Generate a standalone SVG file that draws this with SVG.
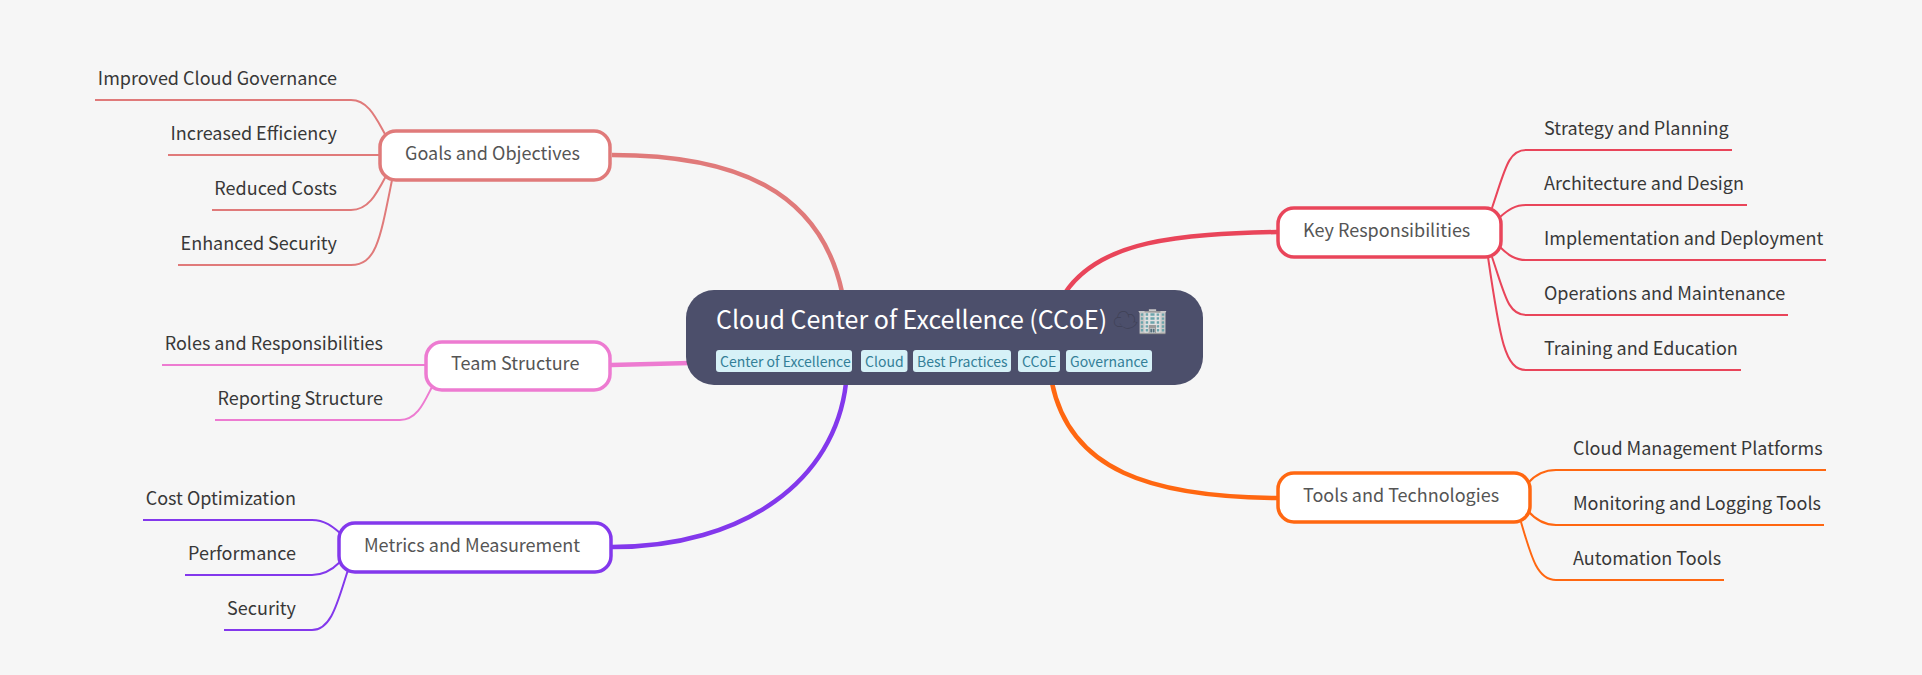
<svg xmlns="http://www.w3.org/2000/svg" width="1922" height="675" viewBox="0 0 1922 675">
<style>
text{font-family:"Noto Sans CJK SC","Noto Sans",sans-serif}
.leaf{font-size:18px;fill:#383838}
.r{text-anchor:end}
.mid{font-size:18px;fill:#555}
.n{fill:#fff;stroke-width:3.5}
.c path{fill:none}
.b{stroke-width:2}
.m{stroke-width:4.5}
.tag{fill:#d6f1f7}
.tt{font-size:14px;fill:#337f97}
</style>
<rect width="1922" height="675" fill="#f6f6f6"/>
<g id="connectors" class="c">
<g stroke="#e07a7a">
<path class="m" d="M612 155C735 155 820 190 842 292"/>
<path class="b" d="M95 100H351C368 100 376 118 385 134"/>
<path class="b" d="M168 155H380"/>
<path class="b" d="M212 210H351C368 210 376 195 386 176"/>
<path class="b" d="M178 265H351C376 265 380 240 392 180"/>
</g>
<g stroke="#ed7bd1">
<path class="m" d="M611 365L690 363"/>
<path class="b" d="M162 365H427"/>
<path class="b" d="M215 420H400C418 420 425 400 433 385"/>
</g>
<g stroke="#8338ec">
<path class="m" d="M612 547C745 547 835 480 846 383"/>
<path class="b" d="M143 520H312C325 520 333 527 340 533"/>
<path class="b" d="M185 575H312C325 575 333 569 340 562"/>
<path class="b" d="M224 630H312C332 630 338 600 348 570"/>
</g>
<g stroke="#e9455a">
<path class="m" d="M1277 232C1180 234 1100 240 1065 293"/>
<path class="b" d="M1492 208C1505 170 1508 150 1526 150H1732"/>
<path class="b" d="M1500 217C1508 210 1515 205 1526 205H1747"/>
<path class="b" d="M1500 247C1508 255 1515 260 1526 260H1826"/>
<path class="b" d="M1492 257C1505 295 1508 315 1526 315H1788"/>
<path class="b" d="M1488 257C1500 340 1505 370 1526 370H1741"/>
</g>
<g stroke="#ff6711">
<path class="m" d="M1277 498C1150 497 1070 470 1052 383"/>
<path class="b" d="M1528 483C1535 475 1545 470 1556 470H1826"/>
<path class="b" d="M1528 511C1535 519 1545 525 1556 525H1824"/>
<path class="b" d="M1521 522C1532 560 1538 580 1556 580H1724"/>
</g>
</g>
<g id="root">
<rect x="686" y="290" width="517" height="95" rx="28" fill="#4c4f6b"/>
<text x="716" y="329" font-size="25" fill="#fff">Cloud Center of Excellence (CCoE)</text>
<text x="1113" y="329" font-size="25" fill="#3f4156">☁</text>
<text x="1137" y="329" font-size="25" fill="#fff">🏢</text>
<rect class="tag" x="716" y="350" width="136" height="22" rx="3"/><text class="tt" x="720" y="367">Center of Excellence</text>
<rect class="tag" x="861" y="350" width="46.500" height="22" rx="3"/><text class="tt" x="865" y="367">Cloud</text>
<rect class="tag" x="913" y="350" width="98" height="22" rx="3"/><text class="tt" x="917" y="367">Best Practices</text>
<rect class="tag" x="1018" y="350" width="42" height="22" rx="3"/><text class="tt" x="1022" y="367">CCoE</text>
<rect class="tag" x="1066" y="350" width="86" height="22" rx="3"/><text class="tt" x="1070" y="367">Governance</text>
</g>
<g id="goals">
<rect class="n" x="380" y="131" width="230" height="49" rx="16" stroke="#e07a7a"/>
<text class="mid" x="405" y="160">Goals and Objectives</text>
</g>
<g id="goals-improved"><text class="leaf r" x="337" y="85">Improved Cloud Governance</text></g>
<g id="goals-efficiency"><text class="leaf r" x="337" y="140">Increased Efficiency</text></g>
<g id="goals-costs"><text class="leaf r" x="337" y="195">Reduced Costs</text></g>
<g id="goals-security"><text class="leaf r" x="337" y="250">Enhanced Security</text></g>
<g id="team">
<rect class="n" x="426" y="342" width="184" height="48" rx="16" stroke="#ed7bd1"/>
<text class="mid" x="451" y="370">Team Structure</text>
</g>
<g id="team-roles"><text class="leaf r" x="383" y="350">Roles and Responsibilities</text></g>
<g id="team-reporting"><text class="leaf r" x="383" y="405">Reporting Structure</text></g>
<g id="metrics">
<rect class="n" x="339" y="523" width="272" height="49" rx="16" stroke="#8338ec"/>
<text class="mid" x="364" y="552">Metrics and Measurement</text>
</g>
<g id="metrics-cost"><text class="leaf r" x="296" y="505">Cost Optimization</text></g>
<g id="metrics-performance"><text class="leaf r" x="296" y="560">Performance</text></g>
<g id="metrics-security"><text class="leaf r" x="296" y="615">Security</text></g>
<g id="key">
<rect class="n" x="1278" y="208" width="223" height="49" rx="16" stroke="#e9455a"/>
<text class="mid" x="1303" y="237">Key Responsibilities</text>
</g>
<g id="key-strategy"><text class="leaf" x="1544" y="135">Strategy and Planning</text></g>
<g id="key-architecture"><text class="leaf" x="1544" y="190">Architecture and Design</text></g>
<g id="key-implementation"><text class="leaf" x="1544" y="245">Implementation and Deployment</text></g>
<g id="key-operations"><text class="leaf" x="1544" y="300">Operations and Maintenance</text></g>
<g id="key-training"><text class="leaf" x="1544" y="355">Training and Education</text></g>
<g id="tools">
<rect class="n" x="1278" y="473" width="252" height="49" rx="16" stroke="#ff6711"/>
<text class="mid" x="1303" y="502">Tools and Technologies</text>
</g>
<g id="tools-cmp"><text class="leaf" x="1573" y="455">Cloud Management Platforms</text></g>
<g id="tools-monitoring"><text class="leaf" x="1573" y="510">Monitoring and Logging Tools</text></g>
<g id="tools-automation"><text class="leaf" x="1573" y="565">Automation Tools</text></g>
</svg>
